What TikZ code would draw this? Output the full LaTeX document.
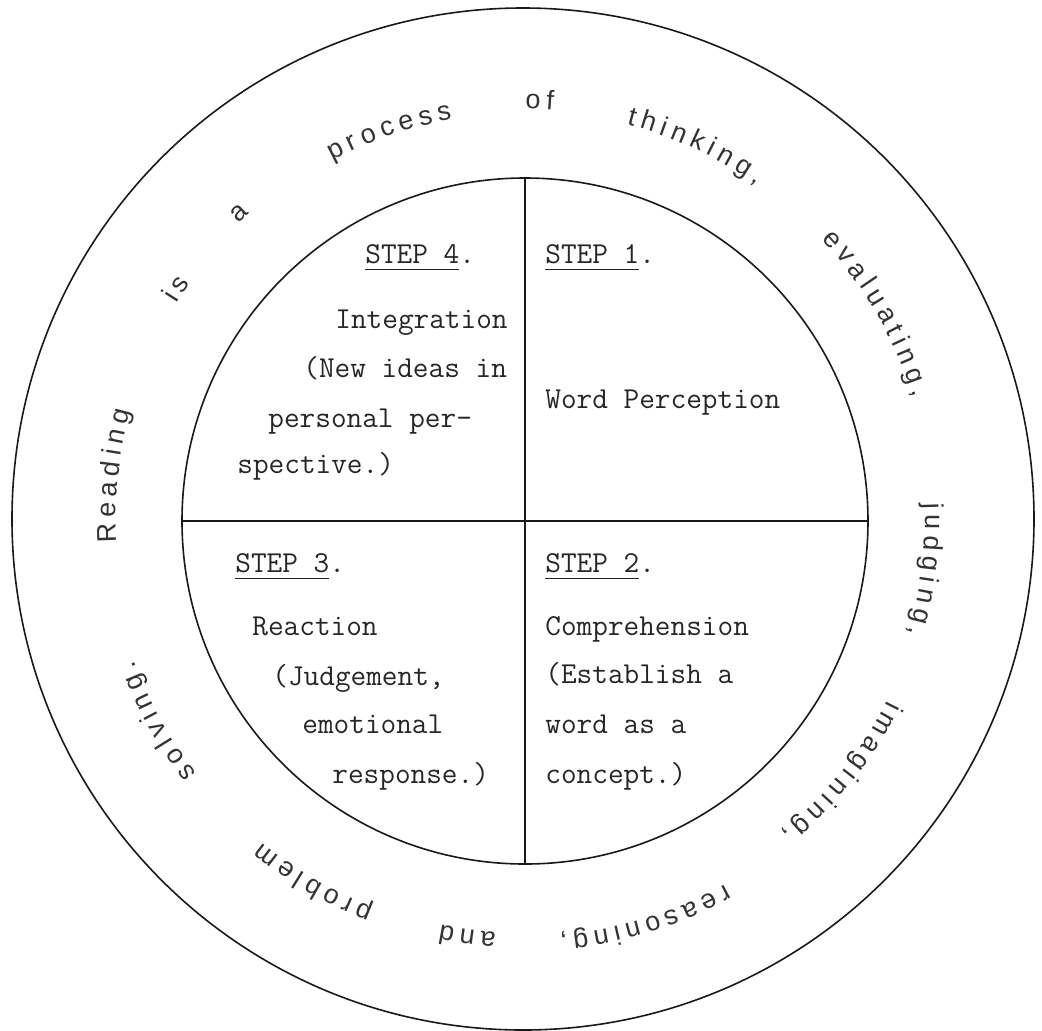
\documentclass[tikz,border=0pt]{standalone}
\usepackage{fontspec}
\setmainfont{Liberation Serif}
\font\ringprim="Liberation Sans" at 13.5pt
\newcommand\stepul[1]{\setbox0=\hbox{#1}\rlap{\rule[-3.6pt]{\wd0}{0.8pt}}\box0}
\newdimen\rwtot
\newdimen\rwpos
\newdimen\rwcw
\newbox\rwbox
% #1 centre angle, #2 baseline radius (picture units), #3 gap, #4 letters
\newcommand\ringword[4]{%
  \global\rwtot=0pt
  \foreach \c in {#4}{\setbox\rwbox=\hbox{\ringprim\c}\global\advance\rwtot by \wd\rwbox \global\advance\rwtot by #3}%
  \global\advance\rwtot by -#3
  \global\rwpos=0pt
  \foreach \c in {#4}{%
    \setbox\rwbox=\hbox{\ringprim\c}%
    \global\rwcw=\wd\rwbox
    \pgfmathsetmacro\rwang{#1 + deg((\the\rwtot/2 - \the\rwpos - \the\rwcw/2)/(#2*0.5))}%
    \global\advance\rwpos by \rwcw
    \global\advance\rwpos by #3
    \node[ringchar, rotate=\rwang-90] at ([shift={(\rwang:#2)}]oc) {\c};
  }}
\begin{document}
\begin{tikzpicture}[x=0.5pt, y=0.5pt,
  ring/.style={draw=black!90, circle, inner sep=0pt, outer sep=0pt, line width=0.8pt},
  divider/.style={draw=black!90, line width=0.8pt},
  ringchar/.style={anchor=base, inner sep=0pt, font=\ringprim, text=black!80},
  celltext/.style={anchor=base west, inner sep=0pt, font=\fontsize{15.2}{18}\ttfamily, text=black!85}]
\useasboundingbox (-524,-510) rectangle (518,520);
\coordinate (oc) at (-1,1);
\node[ring, minimum size=511pt] (outer) at (oc) {};
\node[ring, minimum size=343pt] (inner) at (1,-1) {};
\draw[divider] (inner.north) -- (inner.south);
\draw[divider] (inner.west) -- (inner.east);
% quadrant texts
\node[celltext] (s4) at (-159,257) {\stepul{STEP 4}.};
\node[celltext] (s4a) at (-189,192) {Integration};
\node[celltext] (s4b) at (-221,143) {(New ideas in};
\node[celltext] (s4c) at (-256,93) {personal per-};
\node[celltext] (s4d) at (-287,47) {spective.)};
\node[celltext] (s1) at (21,257) {\stepul{STEP 1}.};
\node[celltext] (s1a) at (21,112) {Word Perception};
\node[celltext] (s3) at (-289,-52) {\stepul{STEP 3}.};
\node[celltext] (s3a) at (-272,-115) {Reaction};
\node[celltext] (s3b) at (-252,-165) {(Judgement,};
\node[celltext] (s3c) at (-222,-213) {emotional};
\node[celltext] (s3d) at (-192,-263) {response.)};
\node[celltext] (s2) at (21,-52) {\stepul{STEP 2}.};
\node[celltext] (s2a) at (21,-115) {Comprehension};
\node[celltext] (s2b) at (21,-163) {(Establish a};
\node[celltext] (s2c) at (21,-213) {word as a};
\node[celltext] (s2d) at (21,-263) {concept.)};
% ring text
\ringword{174}{407}{2.7pt}{R,e,a,d,i,n,g}
\ringword{146.4}{408}{2.7pt}{i,s}
\ringword{132.9}{410}{2.7pt}{a}
\ringword{109}{406}{2.7pt}{p,r,o,c,e,s,s}
\ringword{87.7}{410}{2.7pt}{o,f}
\ringword{65.2}{408}{2.7pt}{t,h,i,n,k,i,n,g,{,}}
\ringword{30.2}{409}{2.7pt}{e,v,a,l,u,a,t,i,n,g,{,}}
\ringword{-7.2}{402}{2.7pt}{j,u,d,g,i,n,g,{,}}
\ringword{-38.5}{407}{2.7pt}{i,m,a,g,i,n,i,n,g,{,}}
\ringword{-73}{418}{2.7pt}{r,e,a,s,o,n,i,n,g,{,}}
\ringword{-97.6}{414}{2.7pt}{a,n,d}
\ringword{-120}{416}{2.7pt}{p,r,o,b,l,e,m}
\ringword{-151}{414}{2.7pt}{s,o,l,v,i,n,g,.}
\end{tikzpicture}
\end{document}
